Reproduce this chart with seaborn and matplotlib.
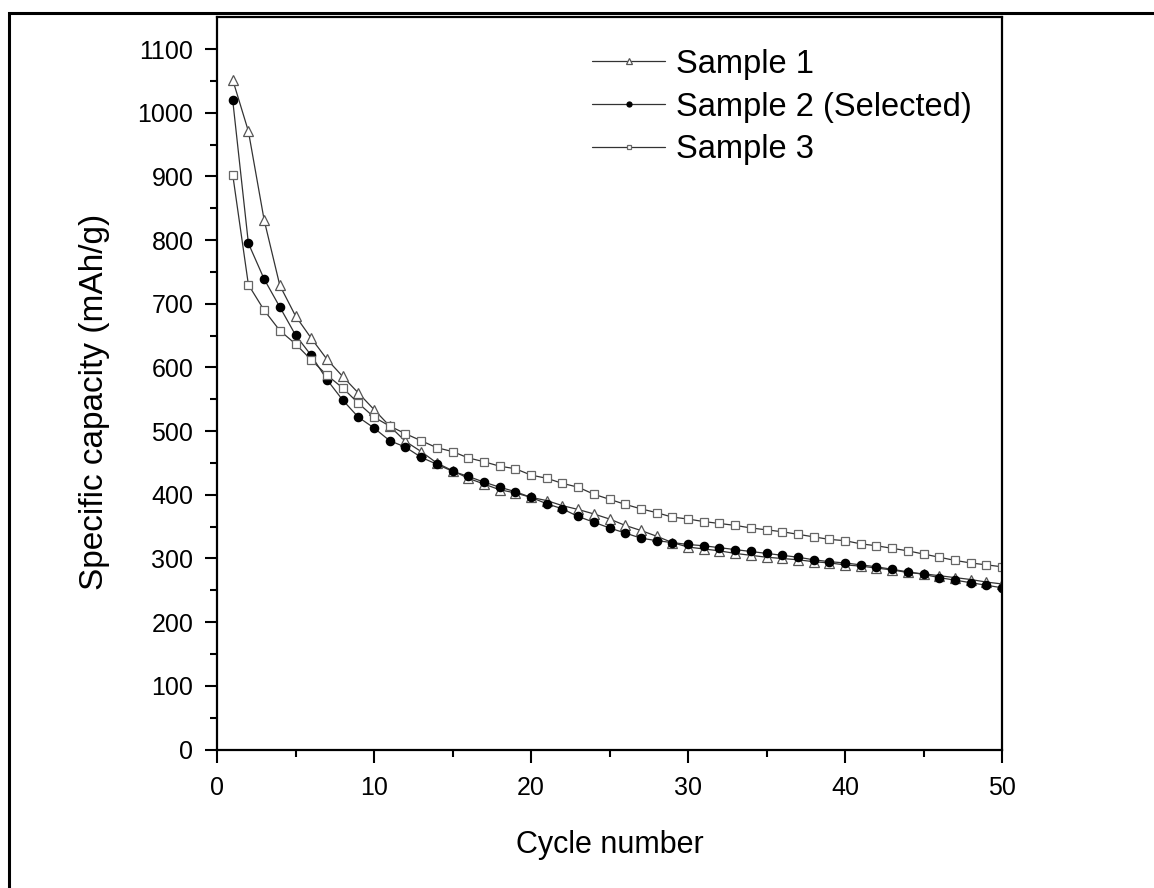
import numpy as np
import pandas as pd
import matplotlib
matplotlib.use("Agg")
import matplotlib.pyplot as plt
import seaborn as sns
from matplotlib.patches import Rectangle

cycles = list(range(1, 51))

sample1 = [1052, 971, 832, 729, 681, 646, 613, 586, 560, 534,
           508, 484, 468, 450, 438, 426, 417, 408, 403, 396,
           391, 383, 377, 370, 362, 352, 344, 335, 325, 318,
           315, 312, 308, 305, 302, 300, 298, 295, 293, 290,
           288, 285, 282, 278, 276, 273, 270, 267, 263, 260]

sample2 = [1020, 795, 739, 695, 651, 619, 581, 549, 522, 505,
           485, 475, 459, 448, 437, 429, 420, 412, 405, 396,
           386, 378, 366, 357, 348, 340, 332, 328, 325, 322,
           320, 317, 314, 311, 308, 305, 302, 298, 295, 293,
           290, 287, 283, 279, 275, 270, 266, 262, 258, 254]

sample3 = [903, 730, 690, 658, 637, 612, 588, 568, 544, 522,
           508, 496, 485, 474, 468, 458, 452, 445, 441, 431,
           426, 418, 412, 401, 393, 385, 378, 372, 365, 362,
           358, 355, 352, 348, 345, 342, 338, 334, 330, 328,
           323, 320, 316, 312, 307, 302, 297, 293, 290, 287]

labels = ["Sample 1", "Sample 2 (Selected)", "Sample 3"]

sns.set_style("ticks")
plt.rcParams['font.family'] = ['Liberation Sans', 'DejaVu Sans']
plt.rcParams.update({"text.color": "black", "axes.labelcolor": "black",
                     "xtick.color": "black", "ytick.color": "black"})

fig = plt.figure(figsize=(11.54, 8.88), dpi=100)
ax = fig.add_axes([217 / 1154, (888 - 749.5) / 888,
                   (1002 - 217) / 1154, (749.5 - 17.3) / 888])

styles = [
    dict(marker="^", markersize=7.5, markerfacecolor="white", markeredgecolor="#555555"),
    dict(marker="o", markersize=6, markerfacecolor="black", markeredgecolor="black"),
    dict(marker="s", markersize=5.2, markerfacecolor="white", markeredgecolor="#666666"),
]

for vals, lab, st in zip([sample1, sample2, sample3], labels, styles):
    sns.lineplot(x=cycles, y=vals, ax=ax, label=lab, color="#333333",
                 linewidth=0.9, markeredgewidth=0.9, **st)

ax.set_xlim(0, 50)
ax.set_ylim(0, 1150)
ax.set_xticks(range(0, 51, 10))
ax.set_xticks(range(0, 51, 5), minor=True)
ax.set_yticks(range(0, 1101, 100))
ax.set_yticks(range(0, 1101, 50), minor=True)
ax.tick_params(which="major", direction="out", length=9, width=1.5,
               labelsize=18, color="black", labelcolor="black")
ax.tick_params(axis="x", which="major", pad=10)
ax.tick_params(axis="y", which="major", pad=8)
ax.tick_params(which="minor", direction="out", length=5, width=1.5, color="black")
for s in ax.spines.values():
    s.set_linewidth(1.6)
    s.set_color("black")

ax.set_xlabel("Cycle number", fontsize=22, labelpad=22)
ax.set_ylabel("Specific capacity (mAh/g)", fontsize=24)
ax.yaxis.set_label_coords(-0.136, 0.475)

leg = ax.legend(loc="upper left", bbox_to_anchor=(0.478, 0.957), frameon=False,
                fontsize=23.5, handlelength=2.24, handletextpad=0.34,
                labelspacing=0.36, markerscale=0.6, borderaxespad=0,
                borderpad=0)

# outer frame around the figure
fig.patches.append(Rectangle((9 / 1154, -0.05), 1.2, (888 - 12.7) / 888 + 0.05,
                             transform=fig.transFigure, fill=False,
                             edgecolor="black", linewidth=2.2))

fig.savefig("out.png", dpi=100, facecolor="white")
